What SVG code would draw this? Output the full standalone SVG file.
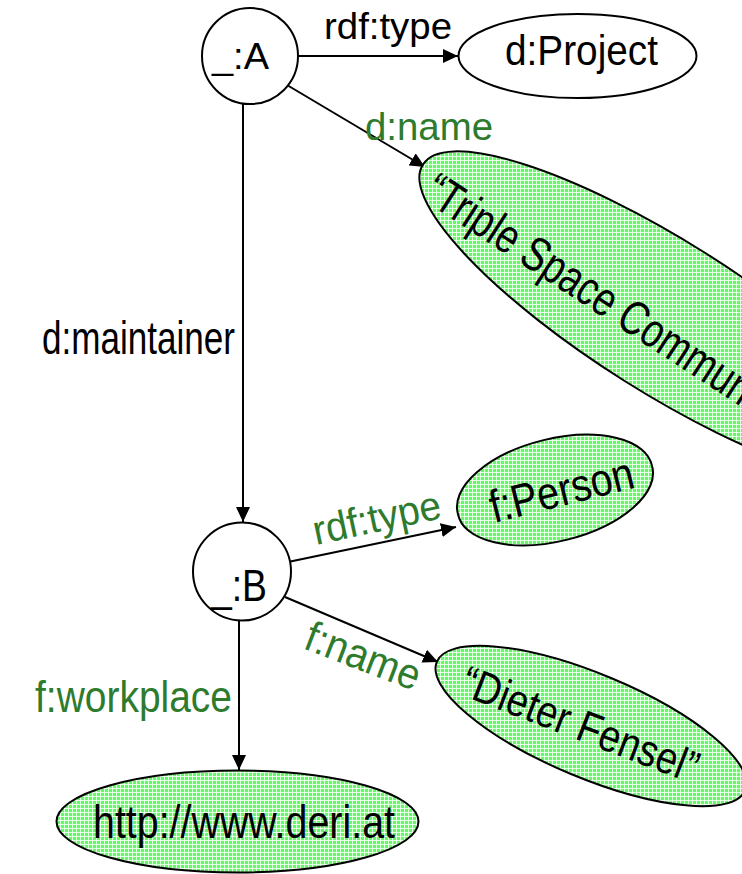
<svg xmlns="http://www.w3.org/2000/svg" width="742" height="874" viewBox="0 0 742 874">
<style>
text{font-family:"Liberation Sans",Arial,sans-serif;fill:#000}
.g{fill:#2e7b2e}
.node{stroke:#000;stroke-width:2}
.plain{fill:#fff}
.lit{fill:url(#grid)}
.edge{stroke:#000;stroke-width:2;fill:none;marker-end:url(#arr)}
</style>
<defs>
<pattern id="grid" patternUnits="userSpaceOnUse" width="4" height="4">
<rect width="4" height="4" fill="#66f866"/>
<rect width="4" height="1" fill="#fff" fill-opacity="0.8"/>
<rect width="1" height="4" fill="#fff" fill-opacity="0.8"/>
</pattern>
<marker id="arr" markerUnits="userSpaceOnUse" viewBox="0 0 15 14" markerWidth="15" markerHeight="14" refX="15" refY="7" orient="auto">
<path d="M0,0 L15,7 L0,14 Z" fill="#000"/>
</marker>
</defs>

<g id="connectors">
<line class="edge" x1="298" y1="56" x2="458" y2="56"/>
<line class="edge" x1="287" y1="85" x2="425" y2="167"/>
<line class="edge" x1="243" y1="100" x2="243" y2="522"/>
<line class="edge" x1="288" y1="562" x2="456" y2="527"/>
<line class="edge" x1="285" y1="597" x2="438" y2="662"/>
<line class="edge" x1="239" y1="620" x2="239" y2="770"/>
</g>

<g id="edge-labels">
<text x="324" y="39" font-size="36" textLength="128" lengthAdjust="spacingAndGlyphs">rdf:type</text>
<text class="g" x="365" y="140" font-size="39" textLength="128" lengthAdjust="spacingAndGlyphs">d:name</text>
<text x="42" y="354" font-size="46" textLength="193" lengthAdjust="spacingAndGlyphs">d:maintainer</text>
<text class="g" transform="translate(316,545) rotate(-12)" font-size="41" textLength="130" lengthAdjust="spacingAndGlyphs">rdf:type</text>
<text class="g" transform="translate(302,648) rotate(21)" font-size="43" textLength="120" lengthAdjust="spacingAndGlyphs">f:name</text>
<text class="g" x="35" y="712" font-size="44" textLength="197" lengthAdjust="spacingAndGlyphs">f:workplace</text>
</g>

<g id="node-A">
<circle class="node plain" cx="250" cy="56" r="48"/>
<text x="212" y="69" font-size="36" textLength="57" lengthAdjust="spacingAndGlyphs">_:A</text>
</g>

<g id="node-project">
<ellipse class="node plain" cx="577.5" cy="56" rx="119" ry="42"/>
<text x="505" y="65" font-size="42" textLength="153" lengthAdjust="spacingAndGlyphs">d:Project</text>
</g>

<g id="node-triple">
<path class="node lit" d="M423,164.6 A286,75 32.2 1 0 907,469.4 A286,75 32.2 1 0 423,164.6 Z"/>
<text transform="translate(421,199) rotate(33)" font-size="48" textLength="501" lengthAdjust="spacingAndGlyphs">“Triple Space Communication”</text>
</g>

<g id="node-B">
<circle class="node plain" cx="242" cy="571.5" r="49"/>
<text x="211" y="601" font-size="45" textLength="56" lengthAdjust="spacingAndGlyphs">_:B</text>
</g>

<g id="node-person">
<path class="node lit" d="M458,514.2 A100,50 -14 1 0 652,465.8 A100,50 -14 1 0 458,514.2 Z"/>
<text transform="translate(494,523) rotate(-14)" font-size="46" textLength="147" lengthAdjust="spacingAndGlyphs">f:Person</text>
</g>

<g id="node-dieter">
<path class="node lit" d="M436.8,661.8 A167,52 22.6 1 0 745.2,790.2 A167,52 22.6 1 0 436.8,661.8 Z"/>
<text transform="translate(458,694) rotate(21)" font-size="45" textLength="250" lengthAdjust="spacingAndGlyphs">“Dieter Fensel”</text>
</g>

<g id="node-deri">
<ellipse class="node lit" cx="237.5" cy="821.5" rx="181" ry="51"/>
<text x="93" y="838" font-size="46" textLength="302" lengthAdjust="spacingAndGlyphs">http://www.deri.at</text>
</g>
</svg>
